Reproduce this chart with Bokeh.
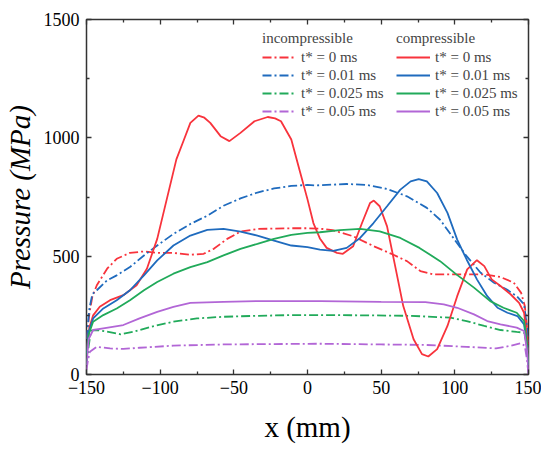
import math
from bokeh.plotting import figure
from bokeh.models import Range1d, FixedTicker, LinearAxis, Legend, LegendItem, CustomLabelingPolicy
from bokeh.embed import file_html
from bokeh.resources import INLINE

# ---------------- data ----------------
# compressible, t* = 0 ms
c0_x = [-150, -148, -145.5, -141, -134, -125, -116, -109, -102, -95.5, -89, -84, -79.5, -74, -70, -66, -59, -53,
        -45.5, -36, -27, -22, -18, -11, -5, 0, 4, 8.4, 13, 20, 24, 31, 37, 42.5, 45, 49, 54, 59.5, 65, 72, 77.7,
        82, 88, 95, 101.6, 108.4, 115, 120, 125, 131, 138, 143.6, 147, 149, 150]
c0_p = [100, 200, 250, 286, 314, 335, 377, 447, 573, 741, 909, 990, 1063, 1094, 1085, 1063, 1007, 986,
        1021, 1070, 1088, 1082, 1070, 993, 855, 740, 640, 575, 535, 514, 510, 542, 640, 725, 735, 711, 626, 458, 289, 149, 86,
        76, 107, 205, 331, 444, 483, 458, 402, 374, 338, 303, 261, 150, 50]

# incompressible, t* = 0 ms
i0_x = [-150, -148, -146, -143, -136, -129.5, -120.5, -111, -102, -91, -79.5, -70.5, -63.6, -54.5, -45.5, -34, -11,
        0, 9, 17, 31, 45, 58, 67.5, 76.6, 85.7, 97, 108, 120, 131, 140, 145, 147.5, 149, 150]
i0_p = [150, 260, 330, 377, 447, 489, 514, 520, 514, 514, 506, 510, 531, 573, 604, 615, 618,
        618, 616, 610, 584, 542, 507, 479, 437, 423, 423, 423, 423, 412, 388, 345, 289, 200, 100]

# incompressible, t* = 0.01 ms
i1_x = [-150, -148, -146, -143, -136, -129.5, -120.5, -111, -102, -91, -79.5, -68, -57, -45.5, -34, -22.7, -11,
        0, 6, 26.6, 40, 54, 67.5, 81, 90, 99, 108, 117.5, 126.6, 135, 142, 147, 149, 150]
i1_p = [150, 280, 340, 356, 398, 419, 454, 503, 545, 594, 636, 671, 713, 744, 769, 786, 797,
        801, 799, 805, 801, 784, 753, 704, 654, 577, 500, 430, 388, 360, 331, 296, 200, 100]

# compressible, t* = 0.01 ms
c1_x = [-150, -148.5, -145.5, -138.6, -129.5, -120.5, -111, -102, -91, -79.5, -68, -57, -45.5, -34, -22.7, -11, 0,
        8.4, 17.5, 26.6, 35.7, 44.8, 54, 63, 70, 75.5, 81, 88, 95, 101.6, 108, 115, 122, 129, 135.7, 142.5, 147, 149, 150]
c1_p = [90, 180, 237, 279, 314, 356, 419, 482, 545, 587, 611, 615, 604, 587, 566, 545, 538,
        528, 522, 535, 577, 640, 711, 781, 816, 826, 816, 767, 683, 570, 486, 402, 331, 282, 261, 247, 212, 120, 40]

# compressible, t* = 0.025 ms
c2_x = [-150, -148.5, -145.5, -138.6, -129.5, -120.5, -111, -102, -91, -79.5, -68, -57, -45.5, -34, -22.7, -11, 0,
        8.4, 22, 35.7, 49, 63, 76, 90, 101, 113, 124, 133, 142, 147, 149, 150]
c2_p = [80, 170, 223, 251, 279, 314, 356, 391, 426, 454, 475, 503, 531, 552, 573, 590, 598,
        601, 610, 615, 605, 577, 535, 479, 423, 367, 310, 282, 261, 226, 130, 40]

# incompressible, t* = 0.025 ms
i2_x = [-150, -148.5, -147, -143, -136, -127, -118, -106, -91, -75, -57, -34, -11, 9, 40, 70, 97, 108, 120, 131,
        142, 147, 149, 150]
i2_p = [40, 120, 185, 188, 181, 170, 181, 202, 223, 237, 244, 248, 251, 251, 250, 248, 240, 226, 205, 188,
        180, 177, 120, 50]

# compressible, t* = 0.05 ms
c3_x = [-150, -148.5, -145.5, -138.6, -125, -114, -102, -91, -79.5, -57, -34, 9, 50, 80, 92.5, 101.6, 113, 122,
        131, 142, 147, 149, 150]
c3_p = [40, 150, 188, 195, 209, 237, 265, 286, 303, 307, 310, 310, 307, 306, 296, 282, 254, 226,
        212, 198, 184, 100, 20]

# incompressible, t* = 0.05 ms
i3_x = [-150, -149, -147.7, -143, -134, -125, -114, -91, -57, 9, 50, 80, 108, 128, 137.5, 145, 147.5, 149, 150]
i3_p = [20, 60, 96, 117, 110, 108, 113, 122, 127, 130, 127, 125, 117, 110, 121, 132, 121, 60, 0]

labels = ["t* = 0 ms", "t* = 0.01 ms", "t* = 0.025 ms", "t* = 0.05 ms"]
x_ticks = [-150, -100, -50, 0, 50, 100, 150]
x_minor = [-125, -75, -25, 25, 75, 125]
y_ticks = [0, 500, 1000, 1500]
y_minor = [250, 750, 1250]

colors = ["#F8333C", "#1F6BBE", "#21AA5A", "#B266D6"]
FONT = "'Liberation Serif', 'Times New Roman', Tinos, 'DejaVu Serif', serif"

p = figure(width=541, height=450, output_backend="svg", toolbar_location=None,
           x_range=Range1d(-150, 150), y_range=Range1d(0, 1500),
           min_border_left=85, min_border_right=13, min_border_top=19, min_border_bottom=76)
p.background_fill_color = "white"
p.border_fill_color = "white"
p.xgrid.visible = False
p.ygrid.visible = False
p.outline_line_color = "#333333"
p.outline_line_width = 1.5

hide_all = CustomLabelingPolicy(code="for (const i of indices) { indices.unset(i) }\nreturn indices")

def style_axis(ax, ticks, minor, show_labels):
    ax.ticker = FixedTicker(ticks=ticks, minor_ticks=minor)
    ax.axis_line_color = None
    ax.major_tick_in = 5
    ax.major_tick_out = 0
    ax.minor_tick_in = 3
    ax.minor_tick_out = 0
    ax.major_tick_line_color = "#333333"
    ax.minor_tick_line_color = "#333333"
    ax.major_tick_line_width = 1.3
    ax.minor_tick_line_width = 1.3
    ax.major_label_text_font = FONT
    ax.major_label_text_color = "black"
    if show_labels:
        ax.major_label_text_font_size = "18px"
    else:
        ax.major_label_text_font_size = "0px"
        ax.major_label_policy = hide_all
        ax.major_label_standoff = 0

style_axis(p.xaxis[0], x_ticks, x_minor, True)
style_axis(p.yaxis[0], y_ticks, y_minor, True)
p.xaxis[0].major_label_standoff = 6
p.yaxis[0].major_label_standoff = 7
p.xaxis[0].major_label_overrides = {t: (("\u2212" + str(-t)) if t < 0 else str(t)) for t in x_ticks}

# axis titles
p.xaxis[0].axis_label = "x (mm)"
p.xaxis[0].axis_label_text_font = FONT
p.xaxis[0].axis_label_text_font_size = "29px"
p.xaxis[0].axis_label_text_font_style = "normal"
p.xaxis[0].axis_label_text_color = "black"
p.xaxis[0].axis_label_standoff = 14
p.yaxis[0].axis_label = "Pressure (MPa)"
p.yaxis[0].axis_label_text_font = FONT
p.yaxis[0].axis_label_text_font_size = "29px"
p.yaxis[0].axis_label_text_font_style = "italic"
p.yaxis[0].axis_label_text_color = "black"
p.yaxis[0].axis_label_standoff = 5

ax_top = LinearAxis()
ax_right = LinearAxis()
style_axis(ax_top, x_ticks, x_minor, False)
style_axis(ax_right, y_ticks, y_minor, False)
p.add_layout(ax_top, "above")
p.add_layout(ax_right, "right")

DASH = "9 3 2 3"
inc = []
comp = []
for xs, ps, col in [(i0_x, i0_p, colors[0]), (i1_x, i1_p, colors[1]), (i2_x, i2_p, colors[2]), (i3_x, i3_p, colors[3])]:
    inc.append(p.line(xs, ps, line_color=col, line_width=1.8, line_dash=DASH))
for xs, ps, col in [(c0_x, c0_p, colors[0]), (c1_x, c1_p, colors[1]), (c2_x, c2_p, colors[2]), (c3_x, c3_p, colors[3])]:
    comp.append(p.line(xs, ps, line_color=col, line_width=1.8))

def make_legend(title, rends, loc):
    leg = Legend(items=[LegendItem(label=l, renderers=[r]) for l, r in zip(labels, rends)],
                 title=title, location=loc)
    leg.title_text_font = FONT
    leg.title_text_font_size = "15px"
    leg.title_text_font_style = "normal"
    leg.title_standoff = 1
    leg.label_text_font = FONT
    leg.label_text_font_size = "15px"
    leg.glyph_width = 34
    leg.glyph_height = 18
    leg.label_height = 18
    leg.label_standoff = 5
    leg.spacing = 0
    leg.padding = 0
    leg.margin = 0
    leg.border_line_color = None
    leg.background_fill_alpha = 0
    return leg

p.add_layout(make_legend("incompressible", inc, (176, 254)))
p.add_layout(make_legend("compressible", comp, (310, 254)))

open("out.html", "w").write(file_html(p, INLINE))
